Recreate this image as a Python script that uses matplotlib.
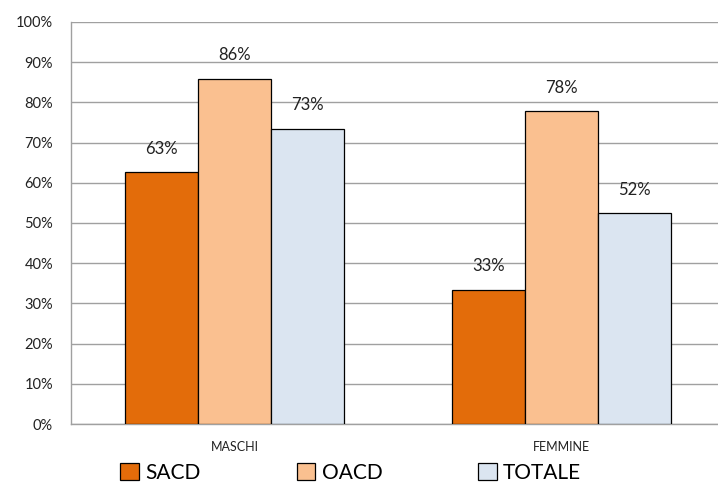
import matplotlib
matplotlib.use("Agg")
import matplotlib.pyplot as plt
import numpy as np

categories = ["MASCHI", "FEMMINE"]
series = ["SACD", "OACD", "TOTALE"]
sacd = [62.6, 33.4]
oacd = [85.9, 77.9]
totale = [73.5, 52.4]
labels_sacd = ["63%", "33%"]
labels_oacd = ["86%", "78%"]
labels_totale = ["73%", "52%"]
colors = ["#E36C0A", "#FAC090", "#DBE5F1"]

plt.rcParams['font.family'] = ['Lato', 'DejaVu Sans']

fig = plt.figure(figsize=(7.18, 4.83), dpi=100)
ax = fig.add_axes([71/718, 59/483, 654/718, 402/483])

x = np.arange(len(categories))
w = 0.223
vals = [sacd, oacd, totale]
labs = [labels_sacd, labels_oacd, labels_totale]
handles = []
for i, (v, l, c) in enumerate(zip(vals, labs, colors)):
    pos = x + (i - 1) * w
    b = ax.bar(pos, v, width=w, color=c, edgecolor="black", linewidth=0.9, zorder=3, label=series[i])
    handles.append(b)
    for p, val, t in zip(pos, v, l):
        ax.text(p, val + 3.8, t, ha="center", va="bottom", fontsize=12, color="#222222")

ax.set_xlim(-0.5, 1.5)
ax.set_ylim(0, 100)
ax.set_yticks(np.arange(0, 101, 10))
ax.set_yticklabels([f"{t}%" for t in range(0, 101, 10)], fontsize=10.5, color="#222222")
ax.set_xticks(x)
ax.set_xticklabels(categories, fontsize=9, color="#222222")
ax.tick_params(axis="x", length=0, pad=12)
ax.tick_params(axis="y", length=0, pad=13)
ax.grid(axis="y", color="#A0A0A0", linewidth=1, zorder=0)
for s in ["top", "right"]:
    ax.spines[s].set_visible(False)
for s in ["left", "bottom"]:
    ax.spines[s].set_color("#A0A0A0")
    ax.spines[s].set_linewidth(1)

leg = fig.legend(handles=handles, labels=series, loc="center left", bbox_to_anchor=(112/718, 1 - 473/483),
                 ncol=3, frameon=False, fontsize=15, handlelength=0.9, handleheight=0.9,
                 handletextpad=0.3, columnspacing=4.6, borderaxespad=0)

fig.savefig("out.png", dpi=100)
